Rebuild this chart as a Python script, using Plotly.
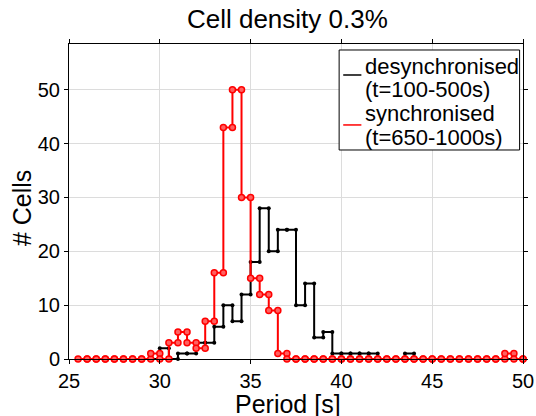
import plotly.graph_objects as go

# Bin edges (s) and counts per bin [edge_i, edge_i+1)
edges = [25.5 + 0.5 * i for i in range(50)]
desync = [0, 0, 0, 0, 0, 0, 0, 0, 0, 2, 0, 1, 1, 3, 3, 6, 10, 7, 12, 18,
          28, 20, 24, 24, 10, 14, 4, 5, 1, 1, 1, 1, 1, 0, 0, 0, 1, 0, 0, 0,
          0, 0, 0, 0, 0, 0, 0, 0, 0, 0]
sync = [0, 0, 0, 0, 0, 0, 0, 0, 1, 0, 3, 5, 3, 2, 7, 16, 43, 50, 30, 15,
        12, 9, 1, 0, 0, 0, 0, 0, 0, 0, 0, 0, 0, 0, 0, 0, 0, 0, 0, 0,
        0, 0, 0, 0, 0, 0, 0, 1, 0, 0]

title_text = "Cell density 0.3%"
x_title = "Period [s]"
y_title = "# Cells"
legend_lines = [["desynchronised", "(t=100-500s)"], ["synchronised", "(t=650-1000s)"]]
colors = ["black", "red"]


def stairs(x, y):
    xs, ys = [], []
    for i in range(len(x) - 1):
        xs += [x[i], x[i + 1]]
        ys += [y[i], y[i]]
    xs.append(x[-1])
    ys.append(y[-1])
    return xs, ys


fig = go.Figure()
bx, by = stairs(edges, desync)
rx, ry = stairs(edges, sync)
fig.add_trace(go.Scatter(x=bx, y=by, mode="lines+markers",
                         name=" ".join(legend_lines[0]),
                         line=dict(color="black", width=2),
                         marker=dict(color="black", size=4, symbol="circle"),
                         cliponaxis=False, showlegend=False))
fig.add_trace(go.Scatter(x=rx, y=ry, mode="lines+markers",
                         name=" ".join(legend_lines[1]),
                         line=dict(color="red", width=2),
                         marker=dict(color="#ff6060", size=6, symbol="circle",
                                     line=dict(width=1.5, color="red")),
                         cliponaxis=False, showlegend=False))

axis_common = dict(showline=True, linecolor="black", linewidth=1, mirror="ticks",
                   ticks="outside", ticklen=4, tickcolor="black",
                   showgrid=True, gridcolor="#dcdcdc", gridwidth=1,
                   zeroline=False, tickfont=dict(size=20, color="black"),
                   automargin=False)

# Legend drawn as a boxed key inside the plot (paper coordinates)
lg_x0, lg_x1, lg_y0, lg_y1 = 0.595, 0.9925, 0.6635, 0.981
sample_x0, sample_x1 = 0.604, 0.644
sample_y = [0.9016, 0.743]
text_x = 0.648
text_y = [[0.930, 0.854], [0.778, 0.7016]]

shapes = [dict(type="rect", xref="paper", yref="paper", x0=lg_x0, x1=lg_x1,
               y0=lg_y0, y1=lg_y1, line=dict(color="black", width=1),
               fillcolor="white", layer="above")]
annotations = []
for k in range(2):
    shapes.append(dict(type="line", xref="paper", yref="paper", x0=sample_x0, x1=sample_x1,
                       y0=sample_y[k], y1=sample_y[k], line=dict(color=colors[k], width=1.5),
                       layer="above"))
    for j in range(2):
        annotations.append(dict(text=legend_lines[k][j], xref="paper", yref="paper",
                                x=text_x, y=text_y[k][j], xanchor="left", yanchor="middle",
                                showarrow=False, font=dict(size=22, color="black")))

annotations += [
    dict(text=x_title, xref="paper", yref="paper", x=0.482, y=0,
         xanchor="center", yanchor="middle", yshift=-45, showarrow=False,
         font=dict(size=25, color="black")),
    dict(text=y_title, xref="paper", yref="paper", x=0, y=0.479,
         xanchor="center", yanchor="middle", xshift=-47, textangle=-90,
         showarrow=False, font=dict(size=25, color="black")),
]

fig.update_layout(
    width=536, height=416,
    margin=dict(l=69.3, r=13.3, t=44, b=57),
    paper_bgcolor="white", plot_bgcolor="white",
    font=dict(family="Liberation Sans, Arial, sans-serif", color="black"),
    title=dict(text=title_text, x=0.481, xref="paper", xanchor="center",
               y=0.954, yref="container", yanchor="middle",
               font=dict(size=26, color="black")),
    xaxis=dict(range=[25, 50], dtick=5, ticklabeloverflow="allow", **axis_common),
    yaxis=dict(range=[0, 58.5], tickvals=[0, 10, 20, 30, 40, 50], **axis_common),
    showlegend=False,
    shapes=shapes,
    annotations=annotations,
)

fig.write_html("out.html", config={"displayModeBar": False},
               post_script="document.body.style.margin='0';document.body.style.padding='0';")
